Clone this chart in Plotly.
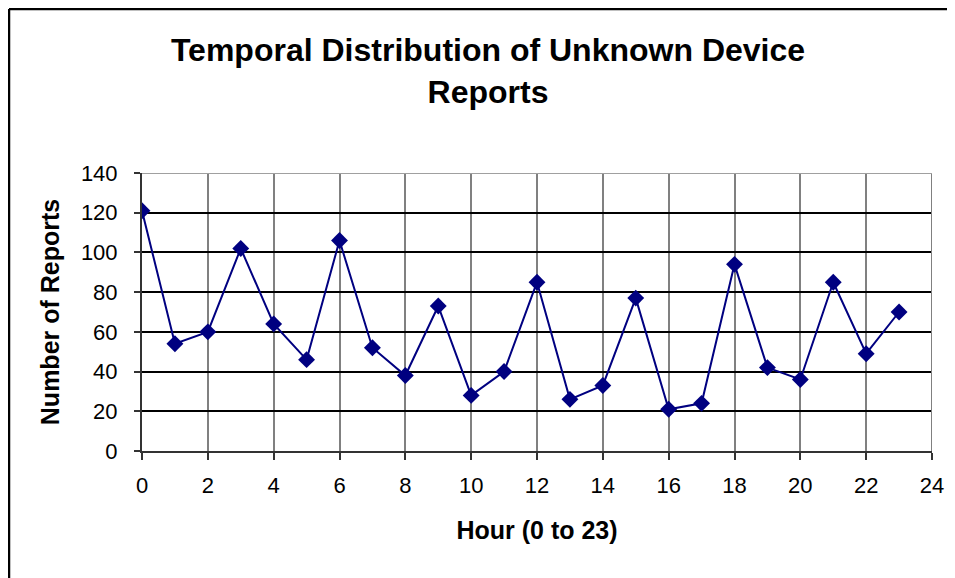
import plotly.graph_objects as go

hours = list(range(24))
reports = [121, 54, 60, 102, 64, 46, 106, 52, 38, 73, 28, 40, 85, 26, 33, 77, 21, 24, 94, 42, 36, 85, 49, 70]
x_ticks = list(range(0, 25, 2))
y_ticks = list(range(0, 141, 20))

title_text = "Temporal Distribution of Unknown Device<br>Reports"
x_title = "Hour (0 to 23)"
y_title = "Number of Reports"

FONT = "Liberation Sans, Arial, sans-serif"

fig = go.Figure()
fig.add_trace(go.Scatter(
    x=hours, y=reports, mode="lines+markers",
    line=dict(color="#000080", width=2),
    marker=dict(symbol="diamond", size=13, color="#000080"),
    showlegend=False, hoverinfo="x+y",
))

W, H = 955, 578
L, R, T, B = 134, 31, 165, 135
PW, PH = W - L - R, H - T - B

fig.update_layout(
    width=W, height=H,
    margin=dict(l=L, r=R, t=T, b=B, autoexpand=False),
    paper_bgcolor="white", plot_bgcolor="white",
    font=dict(family=FONT, color="black", size=22),
    title=dict(text="<b>" + title_text + "</b>", x=480 / W, xanchor="center",
               y=1 - 53 / H, yanchor="middle",
               font=dict(size=32, family=FONT)),
    xaxis=dict(range=[0, 24], tickvals=x_ticks, ticktext=[str(v) for v in x_ticks],
               showgrid=True, gridcolor="#808080", gridwidth=1.5,
               showline=True, linecolor="#333333", linewidth=2,
               ticks="outside", ticklen=7, tickcolor="#333333", tickwidth=1.5,
               ticklabelstandoff=7,
               zeroline=False,
               title=dict(text="<b>" + x_title + "</b>", font=dict(size=25), standoff=24),
               tickfont=dict(size=22)),
    yaxis=dict(range=[0, 140], tickvals=y_ticks,
               showgrid=True, gridcolor="black", gridwidth=1.5,
               showline=True, linecolor="#333333", linewidth=2,
               ticks="outside", ticklen=6, tickcolor="#333333", tickwidth=1.5,
               ticklabelstandoff=12,
               zeroline=False,
               title=dict(text="<b>" + y_title + "</b>", font=dict(size=25), standoff=14),
               tickfont=dict(size=22)),
    shapes=[
        dict(type="line", xref="x", yref="paper", x0=24, x1=24, y0=0, y1=1,
             line=dict(color="#808080", width=2)),
        dict(type="line", xref="paper", yref="y", x0=0, x1=1, y0=140, y1=140,
             line=dict(color="#a0a0a0", width=2)),
    ],
)

# outer chart frame (top and left edges visible)
fx0 = -(L - 1) / PW
fy1 = 1 + (T - 1) / PH
fig.add_shape(type="line", xref="paper", yref="paper",
              x0=fx0, x1=(W - L) / PW, y0=fy1, y1=fy1,
              line=dict(color="black", width=2.5))
fig.add_shape(type="line", xref="paper", yref="paper",
              x0=fx0, x1=fx0, y0=-B / PH, y1=fy1,
              line=dict(color="black", width=2.5))

fig.write_html("out.html")
